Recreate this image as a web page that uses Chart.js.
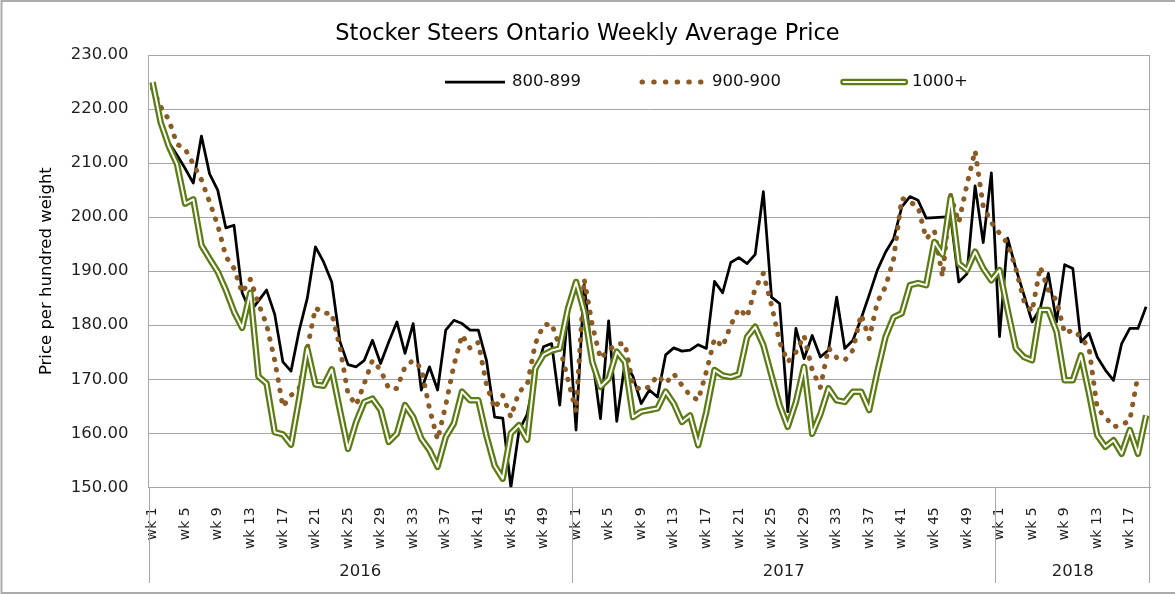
<!DOCTYPE html>
<html>
<head>
<meta charset="utf-8">
<title>Stocker Steers Ontario Weekly Average Price</title>
<script src="https://cdn.jsdelivr.net/npm/chart.js@4.4.1/dist/chart.umd.min.js"></script>
<style>
    html, body { margin: 0; padding: 0; background: #fff; }
    canvas { display: block; }
</style>
</head>
<body>
<canvas id="chart" width="1175" height="594"></canvas>
<script>
// categories: weeks per year, labelled "wk N" every 4th week
const years = ['2016', '2017', '2018'];
const weeksInYear = [52, 52, 19];

// weekly average price, $/cwt
const price800 = [
    224.5, 217.0, 213.8, 211.5, 209.0, 206.3, 215.0, 208.0, 205.0, 198.0,
    198.5, 186.0, 182.5, 184.5, 186.5, 182.0, 173.2, 171.5, 179.0, 185.0,
    194.5, 191.7, 188.0, 177.0, 172.7, 172.3, 173.5, 177.2, 172.9, 176.9,
    180.6, 174.8, 180.3, 168.0, 172.3, 168.0, 179.1, 180.9, 180.3, 179.1,
    179.1, 173.5, 163.0, 162.8, 150.0, 160.5, 163.5, 171.0, 176.0, 176.6,
    165.2, 182.8,
    160.6, 187.5, 174.0, 162.7, 180.8, 162.2, 173.0, 170.5, 165.5, 168.0,
    166.7, 174.5, 175.8, 175.2, 175.4, 176.4, 175.7, 188.1, 186.0, 191.6,
    192.5, 191.4, 193.1, 204.7, 185.2, 184.0, 164.0, 179.4, 173.8, 178.1,
    174.1, 175.4, 185.2, 175.7, 177.2, 181.2, 185.6, 190.2, 193.5, 196.0,
    201.9, 203.8, 203.1, 199.8, 199.9, 200.0, 200.1, 188.0, 189.5, 205.8,
    195.3, 208.2,
    177.9, 196.1, 190.5, 185.6, 180.6, 183.1, 189.6, 180.6, 191.2, 190.5,
    176.9, 178.5, 174.1, 171.7, 169.8, 176.6, 179.4, 179.4, 183.4
];

const price900 = [
    223.8, 220.4, 218.0, 213.5, 212.6, 209.8, 206.9, 202.8, 198.5, 192.7,
    190.5, 186.0, 188.5, 184.0, 180.1, 173.5, 164.9, 167.0, 168.3, 175.7,
    183.2, 182.2, 182.2, 176.0, 167.3, 165.2, 169.2, 173.5, 171.7, 168.3,
    168.3, 172.3, 173.5, 172.0, 164.6, 158.8, 165.2, 172.6, 178.2, 175.7,
    176.8, 169.0, 164.6, 167.0, 163.0, 167.7, 168.9, 176.6, 180.0, 180.3,
    176.0, 170.0,
    164.0, 188.5, 180.0, 173.8, 175.4, 176.5, 176.6, 168.9, 168.0, 168.6,
    170.7, 169.2, 171.0, 168.9, 167.0, 166.1, 171.4, 177.5, 176.0, 180.0,
    183.1, 181.5, 186.8, 189.6, 183.7, 176.9, 173.2, 175.0, 178.1, 171.7,
    168.5, 175.8, 174.0, 173.5, 175.4, 182.0, 177.5, 184.3, 187.1, 192.3,
    203.5, 202.8, 201.9, 196.0, 197.5, 189.0, 204.0, 199.0, 206.0, 212.3,
    202.0, 199.0,
    197.0, 195.1, 190.5, 184.5, 182.5, 190.8, 186.5, 184.6, 178.5, 179.1,
    177.8, 175.7, 164.6, 163.0, 161.2, 161.5, 162.4, 170.7, null
];

const price1000 = [
    225.0, 217.5, 213.1, 209.8, 202.5, 203.3, 194.8, 192.3, 189.9, 186.5,
    182.5, 179.5, 186.0, 170.5, 169.2, 160.2, 159.8, 157.9, 166.4, 175.7,
    169.0, 168.8, 171.8, 164.3, 157.1, 162.1, 165.8, 166.4, 164.3, 158.4,
    159.9, 165.2, 163.0, 159.0, 156.9, 153.8, 159.3, 161.8, 167.7, 166.1,
    166.1, 159.5, 154.0, 151.6, 160.0, 161.5, 158.8, 172.0, 174.5, 175.3,
    175.7, 183.0,
    188.0, 182.5, 173.2, 168.6, 170.1, 175.1, 173.2, 163.0, 164.0, 164.3,
    164.6, 167.7, 165.5, 162.1, 163.3, 157.8, 164.0, 171.7, 170.7, 170.4,
    170.9, 177.8, 179.7, 176.3, 170.7, 165.2, 161.2, 165.8, 172.3, 159.9,
    163.5, 168.3, 166.1, 165.8, 167.7, 167.7, 164.3, 171.4, 177.8, 181.5,
    182.2, 187.4, 187.8, 187.4, 195.4, 193.1, 203.5, 191.4, 190.2, 193.6,
    190.5, 188.3,
    190.2, 182.8, 175.7, 174.1, 173.5, 182.8, 182.8, 178.8, 169.8, 169.8,
    174.4, 167.3, 159.6, 157.5, 158.7, 156.2, 160.6, 156.2, 163.3
];

const FONT = 'DejaVu Sans';
const GRID = '#a6a6a6';
const TEXT = '#1f1f1f';
const BROWN = '#8c5a24';
const GREEN = '#5b7c12';
const DOTS = [0.5, 10];
const LEGEND_DOTS = [0.5, 11.2];

const weekNumbers = [];
const weekLabels = [];
weeksInYear.forEach(n => {
    for (let w = 1; w <= n; w++) {
        weekNumbers.push(w);
        weekLabels.push(`wk ${w}`);
    }
});

// white background, outer frame, year groups under the axis, legend inside the plot
const decorations = {
    id: 'decorations',
    beforeDraw(chart) {
        const ctx = chart.ctx;
        ctx.save();
        ctx.fillStyle = '#fff';
        ctx.fillRect(0, 0, chart.width, chart.height);
        ctx.restore();
    },
    afterDraw(chart) {
        const {ctx, chartArea} = chart;
        const x = chart.scales.x;
        const total = weekLabels.length;
        const lineBottom = 583;

        const boundary = idx => {
            if (idx === 0) return chartArea.left;
            if (idx === total) return chartArea.right;
            return (x.getPixelForValue(idx - 1) + x.getPixelForValue(idx)) / 2;
        };

        ctx.save();
        ctx.strokeStyle = GRID;
        ctx.lineWidth = 1;
        ctx.font = `16.5px "${FONT}"`;
        ctx.fillStyle = TEXT;
        ctx.textAlign = 'center';
        ctx.textBaseline = 'middle';

        let start = 0;
        years.forEach((year, k) => {
            const end = start + weeksInYear[k];
            const left = boundary(start);
            const right = boundary(end);
            ctx.beginPath();
            const px = Math.round(left) + 0.5;
            ctx.moveTo(px, chartArea.bottom);
            ctx.lineTo(px, lineBottom);
            ctx.stroke();
            ctx.fillText(year, (left + right) / 2, 572);
            start = end;
        });
        const rx = Math.round(chartArea.right) - 0.5;
        ctx.beginPath();
        ctx.moveTo(rx, chartArea.top);
        ctx.lineTo(rx, lineBottom);
        ctx.stroke();

        // outer frame
        ctx.strokeStyle = '#ababab';
        ctx.lineWidth = 2;
        ctx.strokeRect(1.5, 1, chart.width + 10, chart.height - 2);

        // legend
        const ly = 82;
        ctx.textAlign = 'left';
        ctx.fillStyle = '#111';

        ctx.beginPath();
        ctx.strokeStyle = '#000';
        ctx.lineWidth = 2.75;
        ctx.moveTo(445, ly);
        ctx.lineTo(505, ly);
        ctx.stroke();
        ctx.fillText(chart.data.datasets[0].label, 512, ly);

        ctx.beginPath();
        ctx.setLineDash(LEGEND_DOTS);
        ctx.lineCap = 'round';
        ctx.strokeStyle = BROWN;
        ctx.lineWidth = 5;
        ctx.moveTo(642, ly);
        ctx.lineTo(703, ly);
        ctx.stroke();
        ctx.setLineDash([]);
        ctx.fillText(chart.data.datasets[1].label, 712, ly);

        ctx.beginPath();
        ctx.strokeStyle = GREEN;
        ctx.lineWidth = 6.5;
        ctx.moveTo(843.5, ly);
        ctx.lineTo(904.8, ly);
        ctx.stroke();
        ctx.beginPath();
        ctx.strokeStyle = '#fff';
        ctx.lineWidth = 2;
        ctx.moveTo(843.5, ly);
        ctx.lineTo(904.8, ly);
        ctx.stroke();
        ctx.fillText(chart.data.datasets[2].label, 912, ly);

        ctx.restore();
    }
};

const canvas = document.getElementById('chart');

new Chart(canvas, {
    type: 'line',
    data: {
        labels: weekLabels,
        datasets: [
            {
                label: '800-899',
                data: price800,
                borderColor: '#000',
                borderWidth: 2.75,
                order: 3,
            },
            {
                label: '900-900',
                data: price900,
                borderColor: BROWN,
                borderWidth: 5,
                borderDash: DOTS,
                borderCapStyle: 'round',
                order: 2,
            },
            {
                label: '1000+',
                data: price1000,
                borderColor: GREEN,
                borderWidth: 6.5,
                order: 1,
            },
            {
                // white core of the double line
                label: '1000+ core',
                data: price1000,
                borderColor: '#fff',
                borderWidth: 2,
                order: 0,
            }
        ]
    },
    options: {
        responsive: false,
        animation: false,
        layout: {
            padding: { left: 24.3, right: 24.3, top: 0, bottom: 0 }
        },
        elements: {
            point: { radius: 0, hoverRadius: 0 },
            line: { tension: 0, fill: false, borderJoinStyle: 'round' }
        },
        plugins: {
            title: {
                display: true,
                text: 'Stocker Steers Ontario Weekly Average Price',
                color: '#000',
                font: { family: FONT, size: 22.5, weight: 'normal' },
                padding: { top: 20.5, bottom: 7.5 }
            },
            legend: { display: false },
            tooltip: { enabled: false }
        },
        scales: {
            x: {
                type: 'category',
                offset: true,
                grid: { display: false },
                border: { display: true, color: GRID, width: 1 },
                ticks: {
                    autoSkip: false,
                    minRotation: 90,
                    maxRotation: 90,
                    padding: 12,
                    color: TEXT,
                    font: { family: FONT, size: 14 },
                    callback: (value, index) => (weekNumbers[index] - 1) % 4 === 0 ? weekLabels[index] : ''
                },
                afterFit: scale => {
                    scale.height = 106.7;
                }
            },
            y: {
                min: 150,
                max: 230,
                grid: { color: GRID, drawTicks: false },
                border: { display: true, color: GRID, width: 1 },
                ticks: {
                    stepSize: 10,
                    padding: 20,
                    color: TEXT,
                    font: { family: FONT, size: 16.5 },
                    callback: value => Number(value).toFixed(2)
                },
                title: {
                    display: true,
                    text: 'Price per hundred weight',
                    color: '#000',
                    font: { family: FONT, size: 16.5 },
                    padding: { top: 12.8, bottom: 0 }
                },
                afterFit: scale => {
                    scale.width = 124.2;
                }
            }
        }
    },
    plugins: [decorations]
});
</script>
</body>
</html>
